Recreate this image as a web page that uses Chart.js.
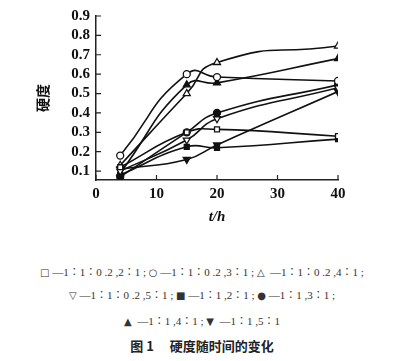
<!DOCTYPE html>
<html>
<head>
<meta charset="utf-8">
<script src="https://cdn.jsdelivr.net/npm/chart.js@4/dist/chart.umd.min.js"></script>
<style>
  body { margin: 0; background: #fff; width: 404px; height: 361px; overflow: hidden; }
  #wrap { position: relative; width: 404px; height: 230px; }
  .leg { position: absolute; left: 0; width: 404px; text-align: center; font-family: "Liberation Serif", "Noto Sans CJK SC", serif; font-size: 11px; color: #333; white-space: pre; }
  .leg b { font-family: "DejaVu Sans", sans-serif; font-weight: normal; font-size: 10px; }
  .cap { position: absolute; left: 0; width: 404px; text-align: center; font-family: "Noto Sans CJK SC", sans-serif; font-weight: bold; font-size: 13px; color: #222; }
</style>
</head>
<body>
<div id="wrap"><canvas id="chart"></canvas></div>
<div class="leg" style="top:263px"><b>□</b> —1∶1∶0 .2 ,2∶1 ; <b>○</b> —1∶1∶0 .2 ,3∶1 ; <b>△</b>  —1∶1∶0 .2 ,4∶1 ;</div>
<div class="leg" style="top:286px"><b>▽</b> —1∶1∶0 .2 ,5∶1 ; <b>■</b> —1∶1 ,2∶1 ; <b>●</b> —1∶1 ,3∶1 ;</div>
<div class="leg" style="top:312px"><b>▲</b>  —1∶1 ,4∶1 ; <b>▼</b>  —1∶1 ,5∶1</div>
<div class="cap" style="top:336px">图 1　 硬度随时间的变化</div>
<script>
// time points (h)
const hours = [4, 15, 20, 40];

// hardness for each ratio
const openSquare = [0.12, 0.30, 0.315, 0.28];
const openCircle = [0.18, 0.60, 0.585, 0.565];
const openTri = [0.13, 0.50, 0.66, 0.745];
const openTriDown = [0.10, 0.26, 0.37, 0.53];
const fillSquare = [0.08, 0.225, 0.22, 0.265];
const fillCircle = [0.07, 0.30, 0.40, 0.545];
const fillTri = [0.09, 0.545, 0.555, 0.68];
const fillTriDown = [0.11, 0.16, 0.235, 0.51];

const yTicks = [0.1, 0.2, 0.3, 0.4, 0.5, 0.6, 0.7, 0.8, 0.9];
const xTicks = [0, 10, 20, 30, 40];

function series(vals, style, filled, rot, tension) {
    return {
        data: hours.map((h, i) => ({ x: h, y: vals[i] })),
        borderColor: '#111',
        borderWidth: 1.6,
        pointStyle: style,
        pointRotation: rot || 0,
        pointRadius: style === 'triangle' ? 4 : 3.5,
        pointBorderWidth: 1.3,
        pointBorderColor: '#111',
        pointBackgroundColor: filled ? '#111' : '#fff',
        tension: tension || 0.5,
        fill: false
    };
}

// small ticks pointing into the plot
const innerTicks = {
    id: 'innerTicks',
    afterDraw(chart) {
        const ctx = chart.ctx;
        const a = chart.chartArea;
        const xs = chart.scales.x, ys = chart.scales.y;
        ctx.save();
        ctx.strokeStyle = '#222';
        ctx.lineWidth = 1.2;
        ctx.beginPath();
        yTicks.forEach(v => {
            const py = ys.getPixelForValue(v);
            ctx.moveTo(a.left, py);
            ctx.lineTo(a.left + 5, py);
        });
        xTicks.forEach(v => {
            const px = xs.getPixelForValue(v);
            ctx.moveTo(px, a.bottom);
            ctx.lineTo(px, a.bottom - 5);
        });
        ctx.stroke();
        ctx.restore();
    }
};

const ctx = document.getElementById('chart').getContext('2d');
new Chart(ctx, {
    type: 'line',
    data: {
        datasets: [
            series(openSquare, 'rect', false),
            series(openCircle, 'circle', false, 0, 0.55),
            series(openTri, 'triangle', false, 0, 0.6),
            series(openTriDown, 'triangle', false, 180),
            series(fillSquare, 'rect', true),
            series(fillCircle, 'circle', true),
            series(fillTri, 'triangle', true),
            series(fillTriDown, 'triangle', true, 180)
        ]
    },
    plugins: [innerTicks],
    options: {
        responsive: true,
        maintainAspectRatio: false,
        animation: false,
        layout: { padding: { left: 30, right: 66, top: 16, bottom: 0 } },
        plugins: { legend: { display: false }, tooltip: { enabled: false } },
        scales: {
            x: {
                type: 'linear',
                min: 0,
                max: 40,
                afterFit(s) { s.height = 50; },
                afterBuildTicks(s) { s.ticks = xTicks.map(v => ({ value: v })); },
                grid: { display: false, drawTicks: false },
                border: { display: true, color: '#222', width: 1.5 },
                ticks: {
                    padding: 5,
                    autoSkip: false,
                    color: '#111',
                    font: { family: 'Liberation Serif', size: 15, weight: 'bold' },
                    maxRotation: 0
                },
                title: {
                    display: true,
                    text: 't/h',
                    color: '#111',
                    padding: { top: 0, bottom: 4 },
                    font: { family: 'Liberation Serif', size: 15, style: 'italic', weight: 'bold' }
                }
            },
            y: {
                min: 0.054,
                max: 0.9,
                afterFit(s) { s.width = 66; },
                afterBuildTicks(s) { s.ticks = yTicks.map(v => ({ value: v })); },
                grid: { display: false, drawTicks: false },
                border: { display: true, color: '#222', width: 1.5 },
                ticks: {
                    padding: 6,
                    autoSkip: false,
                    color: '#111',
                    font: { family: 'Liberation Serif', size: 15, weight: 'bold' },
                    callback: v => v.toFixed(1)
                },
                title: {
                    display: true,
                    text: '硬度',
                    color: '#111',
                    padding: { top: 4, bottom: 0 },
                    font: { family: 'Noto Sans CJK SC', size: 14, weight: 'bold' }
                }
            }
        }
    }
});
</script>
</body>
</html>
